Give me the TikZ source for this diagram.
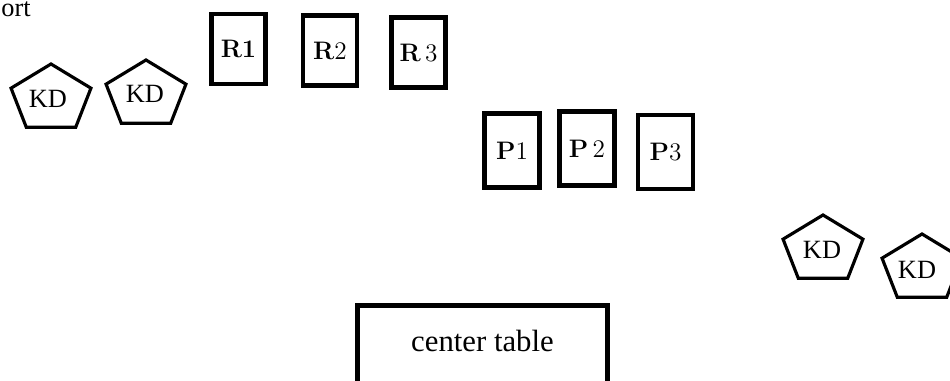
\documentclass[tikz,border=0pt]{standalone}
\usepackage[no-math]{fontspec}
\setmainfont{Liberation Serif}
\begin{document}
\begin{tikzpicture}[x=0.02cm,y=0.02cm,
 rseat/.style={draw,line width=2.8pt,minimum width=1.08cm,minimum height=1.4cm,inner sep=0pt,font=\fontsize{14.5}{16}\selectfont},
 pseat/.style={rseat,minimum width=1.1cm,minimum height=1.48cm},
 kdline/.style={line width=1.8pt,line join=miter},
 kdtext/.style={inner sep=0pt,font=\fontsize{15}{17}\selectfont},
 tablebox/.style={draw,line width=2.6pt,minimum width=5cm,minimum height=2.4cm,anchor=north}]
 \useasboundingbox (0,0) rectangle (950,381);
 \clip (0,0) rectangle (950,381);
 \node[kdtext,anchor=base west] (port) at (1,364) {ort};
 % KD pentagons
 \draw[kdline] (51,282) +(90:42 and 35)--+(162:42 and 35)--+(234:42 and 35)--+(306:42 and 35)--+(18:42 and 35)--cycle;
 \node[kdtext] (kd1) at (48,282) {KD};
 \draw[kdline] (146,286) +(90:42 and 35)--+(162:42 and 35)--+(234:42 and 35)--+(306:42 and 35)--+(18:42 and 35)--cycle;
 \node[kdtext] (kd2) at (145,287) {KD};
 \draw[kdline] (823,131) +(90:42 and 35)--+(162:42 and 35)--+(234:42 and 35)--+(306:42 and 35)--+(18:42 and 35)--cycle;
 \node[kdtext] (kd3) at (822,131) {KD};
 \draw[kdline] (922,112) +(90:42 and 35)--+(162:42 and 35)--+(234:42 and 35)--+(306:42 and 35)--+(18:42 and 35)--cycle;
 \node[kdtext] (kd4) at (917,111) {KD};
 % R seats
 \node[rseat] (r1) at (238.5,332) {$\mathbf{R1}$};
 \node[rseat] (r2) at (330,330.5) {$\mathbf{R}2$};
 \node[rseat] (r3) at (418.5,328.5) {$\mathbf{R}\,3$};
 % P seats
 \node[pseat] (p1) at (512,230.5) {$\mathbf{P}1$};
 \node[pseat] (p2) at (587,232.5) {$\mathbf{P}\,2$};
 \node[pseat] (p3) at (665.5,229) {$\mathbf{P}3$};
 % table
 \node[tablebox] (ctable) at (482.5,77.5) {};
 \node[inner sep=0pt,anchor=base,font=\fontsize{17.5}{19}\selectfont] (ctext) at (482.5,29) {center table};
\end{tikzpicture}
\end{document}
